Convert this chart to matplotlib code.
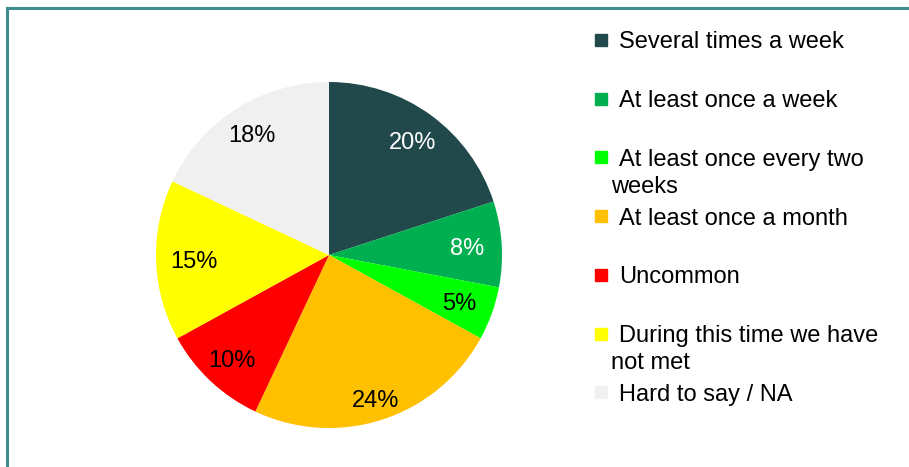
import matplotlib
matplotlib.use("Agg")
import numpy as np
import matplotlib.pyplot as plt
from matplotlib.patches import Rectangle
from matplotlib.lines import Line2D

plt.rcParams['font.family'] = ['Liberation Sans', 'DejaVu Sans']

categories = ["Several times a week", "At least once a week",
              "At least once every two\nweeks", "At least once a month",
              "Uncommon", "During this time we have\nnot met", "Hard to say / NA"]
values = [20, 8, 5, 24, 10, 15, 18]
colors = ["#21494C", "#00B050", "#00FF00", "#FFC000", "#FF0000", "#FFFF00", "#F0F0F0"]
label_colors = ["white", "white", "black", "black", "black", "black", "black"]
label_dist = [0.82, 0.80, 0.80, 0.87, 0.82, 0.78, 0.83]

W, H = 909, 467
fig = plt.figure(figsize=(W / 100, H / 100), dpi=100)

# border (top and left visible)
bc = "#3E8D92"
fig.add_artist(Line2D([7 / W, 1.0], [1 - 8 / H, 1 - 8 / H], color=bc, lw=2.2, transform=fig.transFigure))
fig.add_artist(Line2D([7 / W, 7 / W], [0, 1 - 8 / H], color=bc, lw=2.2, transform=fig.transFigure))

cx, cy, r = 329, 255, 173
ax = fig.add_axes([(cx - r) / W, (H - cy - r) / H, 2 * r / W, 2 * r / H])
wedges, texts, autotexts = ax.pie(values, colors=colors, startangle=90, counterclock=False,
                                  autopct=lambda p: f"{p:.0f}%", pctdistance=0.82,
                                  textprops=dict(fontsize=17, va='center_baseline'))
for w, t, c, d in zip(wedges, autotexts, label_colors, label_dist):
    t.set_color(c)
    ang = np.deg2rad((w.theta1 + w.theta2) / 2)
    t.set_position((d * np.cos(ang), d * np.sin(ang)))
ax.set_xlim(-1, 1)
ax.set_ylim(-1, 1)
ax.set_aspect('equal')
ax.axis('off')

# legend
y0 = 40
step = 58.7
for i, (lab, col) in enumerate(zip(categories, colors)):
    y = y0 + i * step
    fig.add_artist(Rectangle((595 / W, 1 - (y + 6) / H), 12 / W, 12 / H, color=col,
                             transform=fig.transFigure))
    lines = lab.split("\n")
    fig.text(619 / W, 1 - y / H, lines[0], fontsize=17, va='center_baseline', ha='left')
    for j, extra in enumerate(lines[1:]):
        fig.text(611 / W, 1 - (y + 27 * (j + 1)) / H, extra, fontsize=17,
                 va='center_baseline', ha='left')

fig.savefig("out.png", dpi=100)
